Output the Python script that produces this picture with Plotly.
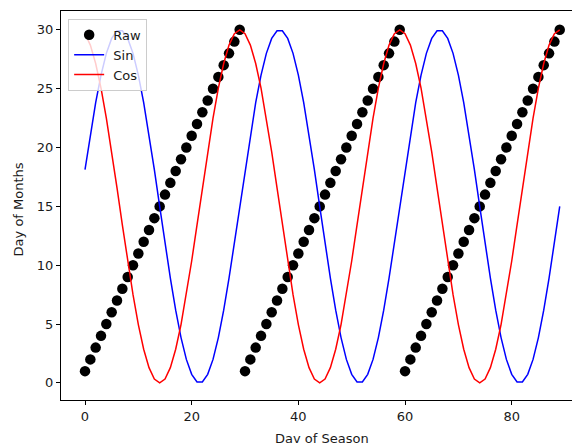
import plotly.graph_objects as go

day = list(range(90))
raw = [1, 2, 3, 4, 5, 6, 7, 8, 9, 10, 11, 12, 13, 14, 15, 16, 17, 18, 19, 20, 21, 22, 23, 24, 25, 26, 27, 28, 29, 30,
       1, 2, 3, 4, 5, 6, 7, 8, 9, 10, 11, 12, 13, 14, 15, 16, 17, 18, 19, 20, 21, 22, 23, 24, 25, 26, 27, 28, 29, 30,
       1, 2, 3, 4, 5, 6, 7, 8, 9, 10, 11, 12, 13, 14, 15, 16, 17, 18, 19, 20, 21, 22, 23, 24, 25, 26, 27, 28, 29, 30]
sin_vals = [18.12, 21.10, 23.82, 26.15, 28.00, 29.27, 29.92, 29.92, 29.27, 28.00, 26.15, 23.82, 21.10, 18.12, 15.00,
            11.88, 8.90, 6.18, 3.85, 2.00, 0.73, 0.08, 0.08, 0.73, 2.00, 3.85, 6.18, 8.90, 11.88, 15.00,
            18.12, 21.10, 23.82, 26.15, 28.00, 29.27, 29.92, 29.92, 29.27, 28.00, 26.15, 23.82, 21.10, 18.12, 15.00,
            11.88, 8.90, 6.18, 3.85, 2.00, 0.73, 0.08, 0.08, 0.73, 2.00, 3.85, 6.18, 8.90, 11.88, 15.00,
            18.12, 21.10, 23.82, 26.15, 28.00, 29.27, 29.92, 29.92, 29.27, 28.00, 26.15, 23.82, 21.10, 18.12, 15.00,
            11.88, 8.90, 6.18, 3.85, 2.00, 0.73, 0.08, 0.08, 0.73, 2.00, 3.85, 6.18, 8.90, 11.88, 15.00]
cos_vals = [29.67, 28.70, 27.14, 25.04, 22.50, 19.64, 16.57, 13.43, 10.36, 7.50, 4.96, 2.86, 1.30, 0.33, 0.00,
            0.33, 1.30, 2.86, 4.96, 7.50, 10.36, 13.43, 16.57, 19.64, 22.50, 25.04, 27.14, 28.70, 29.67, 30.00,
            29.67, 28.70, 27.14, 25.04, 22.50, 19.64, 16.57, 13.43, 10.36, 7.50, 4.96, 2.86, 1.30, 0.33, 0.00,
            0.33, 1.30, 2.86, 4.96, 7.50, 10.36, 13.43, 16.57, 19.64, 22.50, 25.04, 27.14, 28.70, 29.67, 30.00,
            29.67, 28.70, 27.14, 25.04, 22.50, 19.64, 16.57, 13.43, 10.36, 7.50, 4.96, 2.86, 1.30, 0.33, 0.00,
            0.33, 1.30, 2.86, 4.96, 7.50, 10.36, 13.43, 16.57, 19.64, 22.50, 25.04, 27.14, 28.70, 29.67, 30.00]
x_ticks = [0, 20, 40, 60, 80]
y_ticks = [0, 5, 10, 15, 20, 25, 30]
x_title = "Day of Season"
y_title = "Day of Months"
names = ["Raw", "Sin", "Cos"]

fig = go.Figure()
fig.add_trace(go.Scatter(x=day, y=raw, mode="markers", name="\u00a0" + names[0],
                         marker=dict(color="black", size=10.5)))
fig.add_trace(go.Scatter(x=day, y=sin_vals, mode="lines", name="\u00a0" + names[1],
                         line=dict(color="blue", width=1.5)))
fig.add_trace(go.Scatter(x=day, y=cos_vals, mode="lines", name="\u00a0" + names[2],
                         line=dict(color="red", width=1.5)))

txt_font = dict(family="DejaVu Sans", size=13, color="#1a1a1a")
fig.update_layout(
    width=572, height=443,
    margin=dict(l=61, r=0, t=11, b=43, autoexpand=False),
    plot_bgcolor="white", paper_bgcolor="white",
    font=txt_font,
    showlegend=True,
    legend=dict(x=0.014, y=0.98, xanchor="left", yanchor="top",
                bgcolor="rgba(255,255,255,0.8)", bordercolor="#cccccc", borderwidth=1,
                font=txt_font, itemwidth=30),
    xaxis=dict(range=[-4.5, 91.3], tickvals=x_ticks, showgrid=False, zeroline=False,
               showline=True, linecolor="black", linewidth=1, mirror=True,
               ticks="outside", ticklen=4, tickcolor="black", automargin=False),
    yaxis=dict(range=[-1.45, 31.6], tickvals=y_ticks, showgrid=False, zeroline=False,
               showline=True, linecolor="black", linewidth=1, mirror=False,
               ticks="outside", ticklen=4, tickcolor="black", automargin=False),
    annotations=[
        dict(text=x_title, xref="paper", yref="paper", x=0.511, y=-0.0746,
             xanchor="center", yanchor="top", showarrow=False, font=txt_font),
        dict(text=y_title, xref="paper", yref="paper", x=-0.0841, y=0.49,
             xanchor="center", yanchor="middle", textangle=-90, showarrow=False, font=txt_font),
    ],
)

fig.write_html("out.html", config={"displayModeBar": False},
               post_script="document.body.style.margin='0';document.body.style.overflow='hidden';")
